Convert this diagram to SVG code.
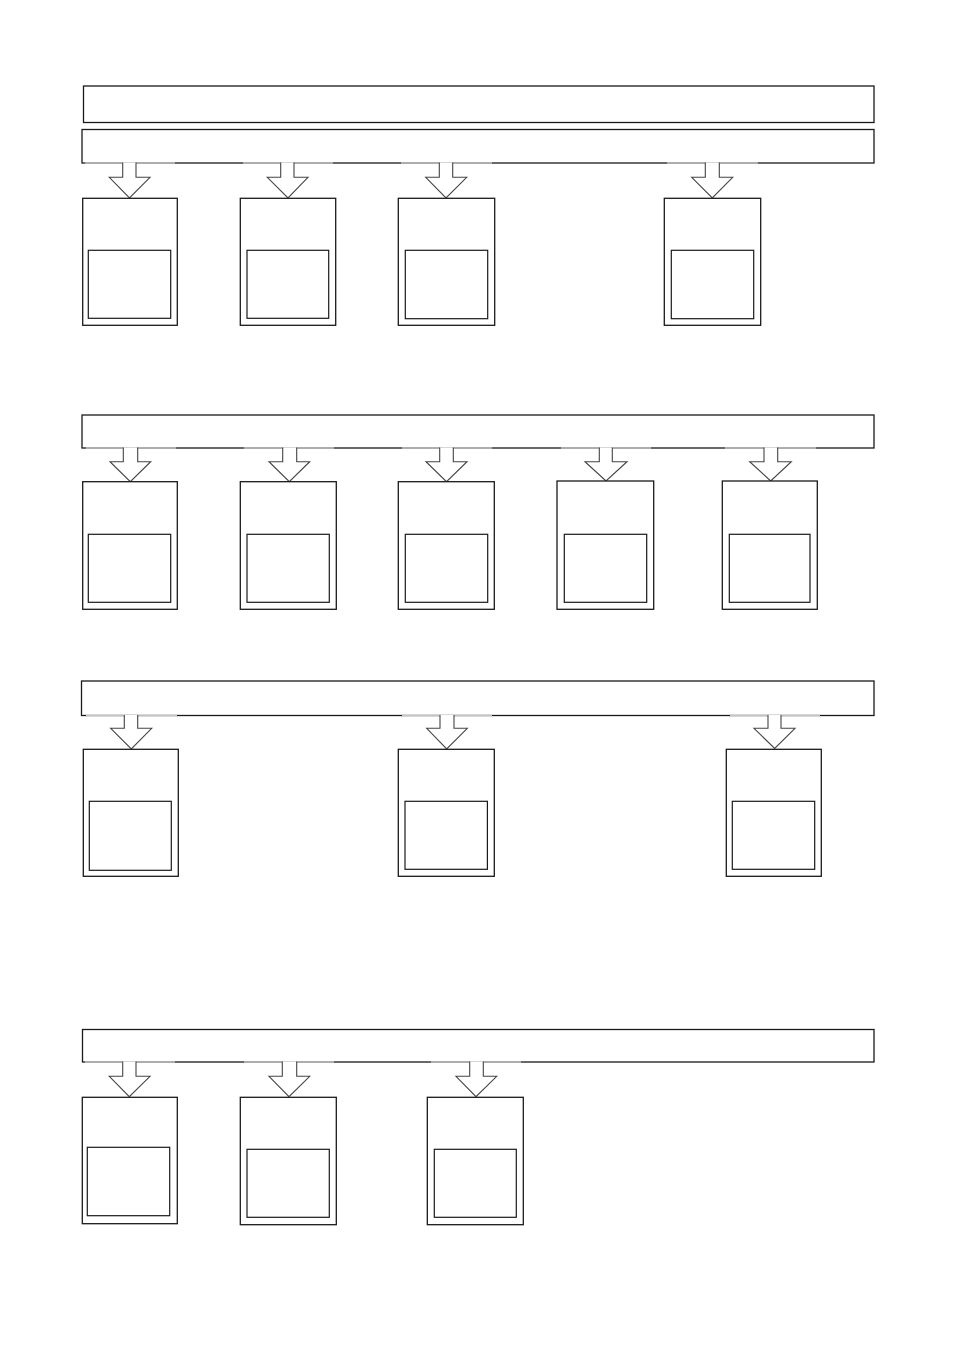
<svg xmlns="http://www.w3.org/2000/svg" width="954" height="1350" viewBox="0 0 954 1350">
<style>
.bar{fill:#fff;stroke:#1a1a1a;stroke-width:1.3}
.box{fill:#fff;stroke:#1a1a1a;stroke-width:1.3}
.inner{fill:#fff;stroke:#1a1a1a;stroke-width:1.2}
.arr{fill:#fff;stroke:#444;stroke-width:1.1;stroke-linejoin:miter}
.ghost{stroke:#c4c4c4;stroke-width:1.4}
</style>
<rect width="954" height="1350" fill="#fff"/>
<g id="title"><rect class="bar" x="83.5" y="86" width="790.5" height="36.5"/></g>
<g id="bar1"><rect class="bar" x="82" y="129.5" width="792" height="33.5"/></g>
<g id="bar2"><rect class="bar" x="82" y="415" width="792" height="33"/></g>
<g id="bar3"><rect class="bar" x="81.5" y="681" width="792.5" height="34.5"/></g>
<g id="bar4"><rect class="bar" x="82.5" y="1029.5" width="791.5" height="32.5"/></g>

<g id="connectors">
<line class="ghost" x1="85" y1="163" x2="175" y2="163"/>
<path class="arr" d="M122.7,162.4 V177.3 H109.3 L129.5,198 L150,177.3 H136 V162.4"/>
<line class="ghost" x1="243" y1="163" x2="333" y2="163"/>
<path class="arr" d="M280.7,162.4 V177.3 H267.3 L288,198 L308,177.3 H294 V162.4"/>
<line class="ghost" x1="401" y1="163" x2="492" y2="163"/>
<path class="arr" d="M439.3,162.4 V177.3 H425.7 L446,198 L466.7,177.3 H452.7 V162.4"/>
<line class="ghost" x1="667" y1="163" x2="758" y2="163"/>
<path class="arr" d="M705.3,162.4 V177.3 H691.7 L712.3,198 L732.7,177.3 H719.3 V162.4"/>

<line class="ghost" x1="86" y1="448" x2="176" y2="448"/>
<path class="arr" d="M123.3,447.4 V461.7 H110 L130.3,481.7 L150.7,461.7 H137.7 V447.4"/>
<line class="ghost" x1="244" y1="448" x2="334" y2="448"/>
<path class="arr" d="M282.7,447.4 V461.7 H269 L289.3,481.7 L309.7,461.7 H296.7 V447.4"/>
<line class="ghost" x1="402" y1="448" x2="492" y2="448"/>
<path class="arr" d="M439.7,447.4 V461.7 H426 L446.5,481.7 L467,461.7 H453.3 V447.4"/>
<line class="ghost" x1="561" y1="448" x2="651" y2="448"/>
<path class="arr" d="M599.3,447.4 V461.7 H585 L606,481 L627,461.7 H612.3 V447.4"/>
<line class="ghost" x1="725" y1="448" x2="816" y2="448"/>
<path class="arr" d="M764,447.4 V461.7 H749.7 L770.7,481 L791.3,461.7 H777.7 V447.4"/>

<line class="ghost" x1="86" y1="715.5" x2="177" y2="715.5"/>
<path class="arr" d="M124.3,714.9 V728.3 H110.7 L131.3,749 L151.7,728.3 H137.7 V714.9"/>
<line class="ghost" x1="402" y1="715.5" x2="492" y2="715.5"/>
<path class="arr" d="M440,714.9 V728.3 H426.7 L446.7,749 L467.3,728.3 H454 V714.9"/>
<line class="ghost" x1="730" y1="715.5" x2="820" y2="715.5"/>
<path class="arr" d="M768,714.9 V728.3 H754 L774.7,748.5 L795,728.3 H781 V714.9"/>

<line class="ghost" x1="85" y1="1062" x2="175" y2="1062"/>
<path class="arr" d="M122.7,1061.4 V1076.3 H109.3 L129.3,1096.7 L150,1076.3 H136 V1061.4"/>
<line class="ghost" x1="244" y1="1062" x2="334" y2="1062"/>
<path class="arr" d="M282.3,1061.4 V1076.3 H269 L289,1096.7 L309.7,1076.3 H296.7 V1061.4"/>
<line class="ghost" x1="431" y1="1062" x2="521" y2="1062"/>
<path class="arr" d="M469.7,1061.4 V1076.3 H456 L476,1096.7 L496.7,1076.3 H483.3 V1061.4"/>
</g>

<g id="n1-1"><rect class="box" x="82.7" y="198.3" width="94.6" height="127"/><rect class="inner" x="88.3" y="250.3" width="82.4" height="68"/></g>
<g id="n1-2"><rect class="box" x="240.3" y="198.3" width="95.4" height="127"/><rect class="inner" x="247" y="250.3" width="81.7" height="68"/></g>
<g id="n1-3"><rect class="box" x="398.3" y="198.3" width="96.4" height="127"/><rect class="inner" x="405.3" y="250.3" width="82.4" height="68.4"/></g>
<g id="n1-4"><rect class="box" x="664.3" y="198.3" width="96.4" height="127"/><rect class="inner" x="671.3" y="250.3" width="82.4" height="68.4"/></g>

<g id="n2-1"><rect class="box" x="82.7" y="481.7" width="94.6" height="127.6"/><rect class="inner" x="88.3" y="534.3" width="82.4" height="68"/></g>
<g id="n2-2"><rect class="box" x="240.3" y="481.7" width="96" height="127.6"/><rect class="inner" x="247" y="534.3" width="82.3" height="68"/></g>
<g id="n2-3"><rect class="box" x="398.3" y="481.7" width="96" height="127.6"/><rect class="inner" x="405.3" y="534.3" width="82.4" height="68"/></g>
<g id="n2-4"><rect class="box" x="557" y="481" width="96.7" height="128.3"/><rect class="inner" x="564.3" y="534.3" width="82.4" height="68"/></g>
<g id="n2-5"><rect class="box" x="722.3" y="481" width="95" height="128.3"/><rect class="inner" x="729.3" y="534.3" width="80.7" height="68"/></g>

<g id="n3-1"><rect class="box" x="83.3" y="749.3" width="95" height="127"/><rect class="inner" x="89.3" y="801.3" width="82" height="69"/></g>
<g id="n3-2"><rect class="box" x="398.3" y="749.3" width="96" height="127"/><rect class="inner" x="405" y="801.3" width="82.4" height="68"/></g>
<g id="n3-3"><rect class="box" x="726.3" y="749.3" width="95" height="127"/><rect class="inner" x="732.3" y="801.3" width="82.4" height="68"/></g>

<g id="n4-1"><rect class="box" x="82.3" y="1097.3" width="95" height="126.4"/><rect class="inner" x="87.3" y="1147.3" width="82.4" height="68.4"/></g>
<g id="n4-2"><rect class="box" x="240.3" y="1097.3" width="96" height="127.4"/><rect class="inner" x="247" y="1149.3" width="82.3" height="68"/></g>
<g id="n4-3"><rect class="box" x="427.3" y="1097.3" width="96" height="127.4"/><rect class="inner" x="434.3" y="1149.3" width="82" height="68"/></g>
</svg>
